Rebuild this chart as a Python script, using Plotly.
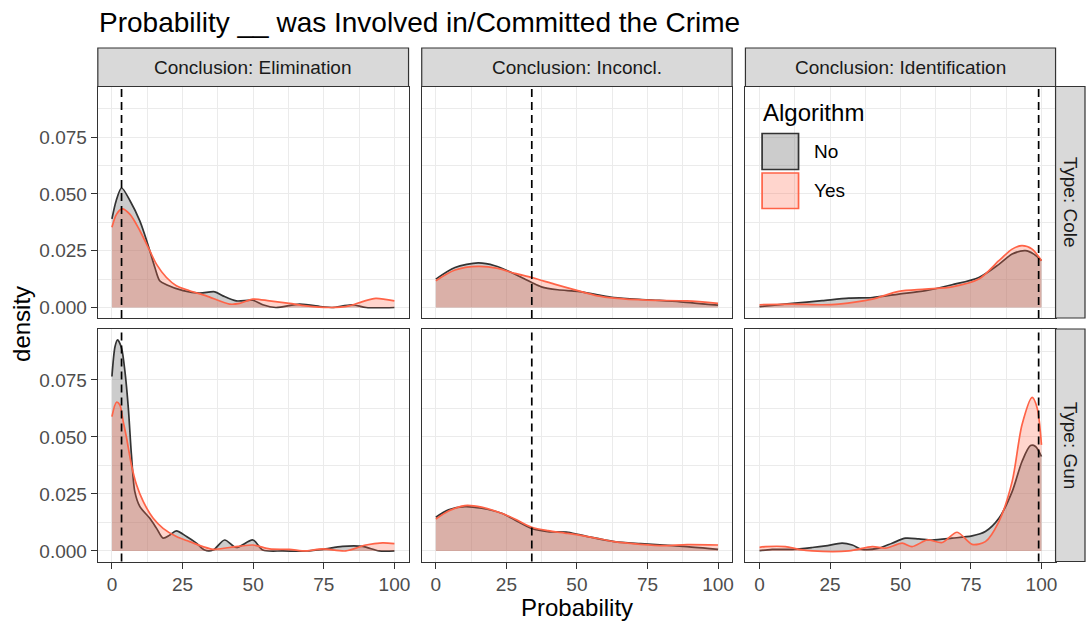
import plotly.graph_objects as go

W, H = 1089, 621

conclusions = ["Elimination", "Inconcl.", "Identification"]
types = ["Cole", "Gun"]
algorithms = ["No", "Yes"]
vline_x = [3.4, 34.0, 99.0]

x_ticks = [0, 25, 50, 75, 100]
x_minor = [12.5, 37.5, 62.5, 87.5]
y_ticks = [0.0, 0.025, 0.05, 0.075]
y_minor = [0.0125, 0.0375, 0.0625, 0.0875]
x_range = [-5, 105]
y_range = [-0.00463, 0.0973]

# ---- Type: Cole ----
cole_elim_no_x = [0, 1.5, 3.4, 6.4, 9.9, 11.6, 13.4, 15.2, 16.9, 19.3, 25.2, 31, 36.4, 39.3, 44, 49.9, 53.4, 58, 66.4, 74.6, 78, 85, 90, 100]
cole_elim_no_y = [0.039, 0.047, 0.0526, 0.047, 0.038, 0.032, 0.025, 0.0176, 0.0118, 0.010, 0.0074, 0.0063, 0.0069, 0.0051, 0.0029, 0.0032, 0.0012, 0.0, 0.0015, 0.0003, 0.0, 0.0012, 0.0, 0.0]
cole_elim_yes_x = [0, 1.6, 3.6, 6.4, 9.9, 13.4, 15.8, 19.3, 22.8, 27.5, 33.4, 41.6, 45.2, 49.9, 55.8, 62.8, 68.7, 77, 84, 88.7, 93.4, 100]
cole_elim_yes_y = [0.0353, 0.041, 0.0434, 0.041, 0.0338, 0.025, 0.019, 0.0132, 0.0096, 0.0074, 0.0051, 0.0015, 0.0018, 0.0037, 0.0029, 0.0018, 0.0007, 0.0, 0.0007, 0.0026, 0.004, 0.0029]

cole_inc_no_x = [0, 6.8, 15, 20.9, 26.8, 31.5, 34, 37.4, 43.2, 50.3, 57.3, 63.2, 75, 86.7, 100]
cole_inc_no_y = [0.0125, 0.0176, 0.0196, 0.0184, 0.0154, 0.0125, 0.011, 0.0091, 0.0078, 0.0071, 0.0056, 0.0044, 0.0034, 0.0025, 0.001]
cole_inc_yes_x = [0, 6.8, 15, 22, 28, 34, 42, 50.3, 57.3, 63.2, 75, 89, 100]
cole_inc_yes_y = [0.0118, 0.0165, 0.0181, 0.0172, 0.015, 0.0132, 0.0103, 0.0074, 0.0051, 0.0041, 0.0032, 0.0029, 0.0018]

cole_ident_no_x = [0, 11.6, 22.2, 31.7, 40, 49.4, 58.9, 68.3, 77.8, 84.9, 89.6, 94.3, 97.3, 100]
cole_ident_no_y = [0.0004, 0.0018, 0.003, 0.0041, 0.0044, 0.0059, 0.0074, 0.01, 0.0132, 0.019, 0.0235, 0.025, 0.0235, 0.0206]
cole_ident_yes_x = [0, 11.6, 22.2, 28.1, 40, 49.4, 58.9, 68.3, 77.8, 84.9, 89.6, 93.1, 96.7, 100]
cole_ident_yes_y = [0.0012, 0.0015, 0.0012, 0.0015, 0.0037, 0.0071, 0.0081, 0.0091, 0.0125, 0.0206, 0.0257, 0.0272, 0.0257, 0.0206]

# ---- Type: Gun ----
gun_elim_no_x = [0, 1.1, 2.0, 3.4, 4.6, 5.8, 6.9, 8.1, 9.9, 13.4, 15.8, 18.1, 20.5, 22.8, 26.4, 29.9, 32.8, 35.8, 39.9, 44, 49.9, 53.4, 60.5, 68.7, 74.6, 81.6, 88.7, 94.6, 100]
gun_elim_no_y = [0.0765, 0.0896, 0.0925, 0.0889, 0.0787, 0.0626, 0.0421, 0.026, 0.0194, 0.0143, 0.0099, 0.0056, 0.007, 0.0088, 0.0063, 0.0034, 0.0004, 0.0004, 0.0048, 0.0015, 0.0048, 0.0004, 0.0, 0.0, 0.0007, 0.002, 0.002, 0.0, 0.0]
gun_elim_yes_x = [0, 1.6, 2.8, 4, 5.2, 6.9, 8.7, 11.1, 14.6, 18.1, 22.8, 27.5, 32.2, 35.8, 41.6, 49.9, 55.8, 62.8, 68.7, 74.6, 82.8, 89.9, 95.8, 100]
gun_elim_yes_y = [0.0589, 0.0652, 0.064, 0.0567, 0.0494, 0.0377, 0.029, 0.0216, 0.0143, 0.0099, 0.0063, 0.0041, 0.0019, 0.0007, 0.0015, 0.0026, 0.0009, 0.0007, 0.0, 0.0009, 0.0, 0.0026, 0.0035, 0.0032]

gun_inc_no_x = [0, 4.5, 10.3, 16.2, 23.3, 28, 34, 39.7, 46.8, 53.8, 63.2, 72.6, 80.8, 89, 100]
gun_inc_no_y = [0.0148, 0.018, 0.0194, 0.0187, 0.0165, 0.0136, 0.0099, 0.0085, 0.0082, 0.0063, 0.0041, 0.0032, 0.0026, 0.0019, 0.0007]
gun_inc_yes_x = [0, 4.5, 10.3, 16.2, 23.3, 28, 34, 39.7, 46.8, 53.8, 63.2, 72.6, 80.8, 89, 100]
gun_inc_yes_y = [0.014, 0.0175, 0.0199, 0.0192, 0.0165, 0.014, 0.0104, 0.0089, 0.0077, 0.0063, 0.0041, 0.0029, 0.0023, 0.0028, 0.0026]

gun_ident_no_x = [0, 4.5, 11.6, 18.7, 23.4, 29.3, 32.9, 36.4, 42.3, 47, 51.8, 56.5, 61.2, 68.3, 75.4, 80.1, 84.9, 89.6, 93.1, 96.1, 97.9, 100]
gun_ident_no_y = [0.0001, 0.0007, 0.0007, 0.0015, 0.0022, 0.0034, 0.0026, 0.0007, 0.0012, 0.0034, 0.0056, 0.0053, 0.0048, 0.0056, 0.0066, 0.0085, 0.0143, 0.026, 0.0392, 0.0462, 0.0458, 0.0414]
gun_ident_yes_x = [0, 2.1, 9.2, 13.9, 18.7, 31.7, 40, 44.7, 50.6, 54.1, 59.5, 64.8, 70.1, 75.4, 80.1, 84.9, 89.6, 93.1, 96.7, 98.5, 100]
gun_ident_yes_y = [0.0016, 0.0019, 0.0019, 0.0007, 0.0, 0.0, 0.0019, 0.0012, 0.0034, 0.0019, 0.0048, 0.0037, 0.0082, 0.0029, 0.0041, 0.0129, 0.0304, 0.0553, 0.0673, 0.0626, 0.0465]

curves = {
    ("Cole", "Elimination"): {"No": (cole_elim_no_x, cole_elim_no_y), "Yes": (cole_elim_yes_x, cole_elim_yes_y)},
    ("Cole", "Inconcl."): {"No": (cole_inc_no_x, cole_inc_no_y), "Yes": (cole_inc_yes_x, cole_inc_yes_y)},
    ("Cole", "Identification"): {"No": (cole_ident_no_x, cole_ident_no_y), "Yes": (cole_ident_yes_x, cole_ident_yes_y)},
    ("Gun", "Elimination"): {"No": (gun_elim_no_x, gun_elim_no_y), "Yes": (gun_elim_yes_x, gun_elim_yes_y)},
    ("Gun", "Inconcl."): {"No": (gun_inc_no_x, gun_inc_no_y), "Yes": (gun_inc_yes_x, gun_inc_yes_y)},
    ("Gun", "Identification"): {"No": (gun_ident_no_x, gun_ident_no_y), "Yes": (gun_ident_yes_x, gun_ident_yes_y)},
}

line_col = {"No": "#333333", "Yes": "#ff6347"}
fill_col = {"No": "rgba(128,128,128,0.40)", "Yes": "rgba(255,99,71,0.27)"}

FONT = "Liberation Sans, Arial, sans-serif"

def px_x(v):
    return v / W

def px_y(v):
    return 1 - v / H

col_px = [(98, 409.3), (422.5, 733.5), (746.8, 1057.5)]
row_px = [(86.5, 318), (329, 561.5)]

fig = go.Figure()
layout = dict(
    width=W, height=H, autosize=False,
    margin=dict(l=0, r=0, t=0, b=0),
    paper_bgcolor="white", plot_bgcolor="white",
    showlegend=False,
    font=dict(family=FONT, color="#000000"),
)
shapes = []
annotations = []

for r, t in enumerate(types):
    for c, concl in enumerate(conclusions):
        idx = r * 3 + c + 1
        xa = "x" if idx == 1 else f"x{idx}"
        ya = "y" if idx == 1 else f"y{idx}"
        bottom = (r == len(types) - 1)
        left = (c == 0)
        layout["xaxis" if idx == 1 else f"xaxis{idx}"] = dict(
            domain=[px_x(col_px[c][0]), px_x(col_px[c][1])],
            anchor=ya, range=x_range, fixedrange=True,
            tickmode="array", tickvals=x_ticks, ticktext=[str(v) for v in x_ticks],
            showticklabels=bottom, ticks="outside" if bottom else "",
            ticklen=6, tickwidth=1.2, tickcolor="#333333",
            tickfont=dict(size=19, color="#4d4d4d", family=FONT),
            showgrid=True, gridcolor="#ebebeb", gridwidth=1.3,
            minor=dict(tickmode="array", tickvals=x_minor, showgrid=True, gridcolor="#ebebeb", gridwidth=0.7, ticks=""),
            zeroline=False, showline=True, mirror=True, linecolor="#333333", linewidth=1.2,
        )
        layout["yaxis" if idx == 1 else f"yaxis{idx}"] = dict(
            domain=[px_y(row_px[r][1]), px_y(row_px[r][0])],
            anchor=xa, range=y_range, fixedrange=True,
            tickmode="array", tickvals=y_ticks, ticktext=[f"{v:.3f}" for v in y_ticks],
            showticklabels=left, ticks="outside" if left else "",
            ticklen=6, tickwidth=1.2, tickcolor="#333333",
            tickfont=dict(size=19, color="#4d4d4d", family=FONT),
            showgrid=True, gridcolor="#ebebeb", gridwidth=1.3,
            minor=dict(tickmode="array", tickvals=y_minor, showgrid=True, gridcolor="#ebebeb", gridwidth=0.7, ticks=""),
            zeroline=False, showline=True, mirror=True, linecolor="#333333", linewidth=1.2,
        )
        for alg in algorithms:
            xs, ys = curves[(t, concl)][alg]
            fig.add_trace(go.Scatter(
                x=xs, y=ys, mode="lines", xaxis=xa, yaxis=ya,
                line=dict(color=line_col[alg], width=1.7, shape="spline", smoothing=0.8),
                fill="tozeroy", fillcolor=fill_col[alg],
                hoverinfo="skip", showlegend=False, name=alg,
            ))
        shapes.append(dict(
            type="line", xref=xa, yref=f"{ya} domain", x0=vline_x[c], x1=vline_x[c], y0=0, y1=1,
            line=dict(color="black", width=1.7, dash="8px,5px"), layer="above",
        ))

# top strips
for c, concl in enumerate(conclusions):
    x0, x1 = col_px[c]
    shapes.append(dict(type="rect", xref="paper", yref="paper",
                       x0=px_x(x0), x1=px_x(x1), y0=px_y(86.5), y1=px_y(48),
                       fillcolor="#d9d9d9", line=dict(color="#333333", width=1.2)))
    annotations.append(dict(xref="paper", yref="paper", x=px_x((x0 + x1) / 2), y=px_y(67.5),
                            text=f"Conclusion: {concl}", showarrow=False,
                            xanchor="center", yanchor="middle",
                            font=dict(size=19, color="#1a1a1a", family=FONT)))
# right strips
for r, t in enumerate(types):
    y0, y1 = row_px[r]
    shapes.append(dict(type="rect", xref="paper", yref="paper",
                       x0=px_x(1057.5), x1=px_x(1087), y0=px_y(y1), y1=px_y(y0),
                       fillcolor="#d9d9d9", line=dict(color="#333333", width=1.2)))
    annotations.append(dict(xref="paper", yref="paper", x=px_x(1072.5), y=px_y((y0 + y1) / 2),
                            text=f"Type: {t}", showarrow=False, textangle=90,
                            xanchor="center", yanchor="middle",
                            font=dict(size=19, color="#1a1a1a", family=FONT)))

# title and axis titles
annotations.append(dict(xref="paper", yref="paper", x=px_x(97), y=px_y(22),
                        text="Probability __ was Involved in/Committed the Crime", showarrow=False,
                        xanchor="left", yanchor="middle", font=dict(size=28, color="black", family=FONT)))
annotations.append(dict(xref="paper", yref="paper", x=px_x((col_px[0][0] + col_px[2][1]) / 2), y=px_y(607),
                        text="Probability", showarrow=False,
                        xanchor="center", yanchor="middle", font=dict(size=24, color="black", family=FONT)))
annotations.append(dict(xref="paper", yref="paper", x=px_x(21), y=px_y((row_px[0][0] + row_px[1][1]) / 2),
                        text="density", showarrow=False, textangle=-90,
                        xanchor="center", yanchor="middle", font=dict(size=24, color="black", family=FONT)))

# legend (drawn inside the Cole / Identification panel)
annotations.append(dict(xref="paper", yref="paper", x=px_x(762), y=px_y(112),
                        text="Algorithm", showarrow=False, xanchor="left", yanchor="middle",
                        font=dict(size=24, color="black", family=FONT)))
leg_rows = [(133.5, 169.5), (173, 208.5)]
for i, alg in enumerate(algorithms):
    ky0, ky1 = leg_rows[i]
    shapes.append(dict(type="rect", xref="paper", yref="paper",
                       x0=px_x(763.5), x1=px_x(800), y0=px_y(ky1), y1=px_y(ky0),
                       fillcolor=fill_col[alg], line=dict(color=line_col[alg], width=1.7), layer="above"))
    annotations.append(dict(xref="paper", yref="paper", x=px_x(813), y=px_y((ky0 + ky1) / 2),
                            text=alg, showarrow=False, xanchor="left", yanchor="middle",
                            font=dict(size=19, color="black", family=FONT)))

layout["shapes"] = shapes
layout["annotations"] = annotations
fig.update_layout(**layout)
fig.write_html("out.html")
